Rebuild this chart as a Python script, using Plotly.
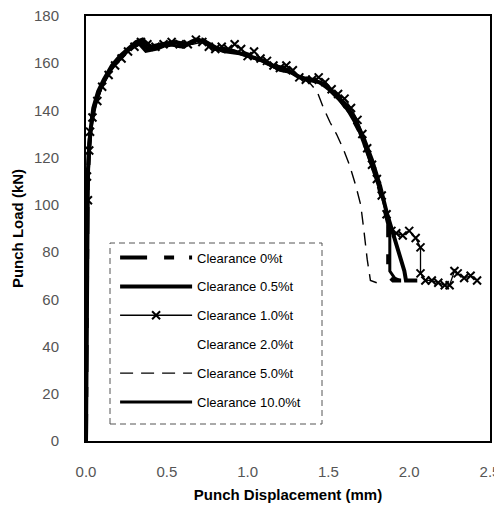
import plotly.graph_objects as go

# ---- data ----
names = ["Clearance 0%t", "Clearance 0.5%t", "Clearance 1.0%t",
         "Clearance 2.0%t", "Clearance 5.0%t", "Clearance 10.0%t"]

x_c0 = [0.0, 0.005, 0.01, 0.02, 0.04, 0.07, 0.10, 0.15, 0.20, 0.25, 0.30, 0.34, 0.38, 0.45, 0.52, 0.60,
        0.66, 0.72, 0.80, 0.90, 1.00, 1.08, 1.15, 1.22, 1.30, 1.38, 1.46, 1.52, 1.58, 1.64, 1.70, 1.75,
        1.80, 1.84, 1.87, 1.87, 1.90, 1.95]
y_c0 = [0, 70, 108, 126, 138, 146, 151, 157, 161, 165, 168, 169, 166, 167, 168, 167,
        169, 170, 166, 166, 164, 162, 159, 158, 155, 153, 152, 148, 144, 138, 130, 121,
        111, 100, 92, 70, 68, 68]

x_c05 = [0.0, 0.005, 0.012, 0.025, 0.045, 0.075, 0.11, 0.16, 0.21, 0.26, 0.31, 0.35, 0.40, 0.47, 0.55,
         0.62, 0.68, 0.74, 0.82, 0.92, 1.02, 1.10, 1.18, 1.25, 1.32, 1.40, 1.48, 1.54, 1.60, 1.66, 1.72,
         1.77, 1.82, 1.86, 1.89, 1.92, 1.95, 1.97, 1.98, 2.05]
y_c05 = [0, 80, 115, 130, 141, 148, 153, 159, 163, 166, 169, 170, 167, 168, 169,
         168, 170, 169, 166, 165, 163, 161, 158, 157, 154, 153, 151, 147, 143, 137, 128,
         119, 108, 97, 90, 84, 77, 72, 68, 68]

x_c1 = [0.012, 0.006, 0.02, 0.025, 0.04, 0.07, 0.10, 0.14, 0.18, 0.22, 0.26, 0.30, 0.34, 0.38, 0.43,
        0.48, 0.53, 0.58, 0.63, 0.68, 0.72, 0.76, 0.80, 0.84, 0.88, 0.92, 0.96, 1.00, 1.04, 1.08, 1.12,
        1.16, 1.20, 1.24, 1.28, 1.32, 1.36, 1.40, 1.44, 1.48, 1.52, 1.56, 1.60, 1.64, 1.68, 1.71, 1.74,
        1.77, 1.80, 1.83, 1.86, 1.89, 1.92, 1.96, 2.00, 2.04, 2.07, 2.07, 2.10, 2.14, 2.18, 2.22, 2.25,
        2.28, 2.30, 2.34, 2.38, 2.42]
y_c1 = [102, 112, 123, 131, 137, 144, 150, 155, 159, 162, 165, 167, 169, 168, 167,
        168, 169, 168, 168, 170, 169, 167, 166, 167, 166, 168, 166, 163, 165, 162, 161,
        159, 158, 159, 157, 154, 153, 153, 154, 152, 149, 147, 145, 141, 136, 130, 124,
        117, 111, 104, 96, 89, 88, 87, 89, 86, 82, 71, 68, 68, 67, 66, 66,
        72, 71, 69, 70, 68]

x_c2 = [0.0, 0.01, 0.05, 0.2, 0.4, 0.7, 1.0, 1.3, 1.5, 1.7, 1.85, 1.9]
y_c2 = [0, 110, 140, 161, 167, 169, 165, 155, 150, 130, 100, 68]

x_c5 = [0.0, 0.005, 0.01, 0.02, 0.04, 0.07, 0.11, 0.16, 0.21, 0.26, 0.31, 0.36, 0.42, 0.50, 0.58,
        0.66, 0.72, 0.80, 0.90, 1.00, 1.10, 1.20, 1.30, 1.38, 1.43, 1.47, 1.51, 1.55, 1.59, 1.63,
        1.67, 1.70, 1.72, 1.74, 1.76, 1.80]
y_c5 = [0, 75, 110, 127, 139, 146, 152, 158, 162, 165, 167, 168, 166, 167, 168,
        168, 169, 166, 166, 163, 160, 157, 155, 152, 148, 141, 135, 130, 124, 117,
        108, 100, 89, 77, 68, 67]

x_c10 = [0.0, 0.005, 0.01, 0.02, 0.035, 0.06, 0.09, 0.13, 0.18, 0.23, 0.28, 0.33, 0.37, 0.44, 0.51,
         0.58, 0.64, 0.70, 0.77, 0.85, 0.95, 1.05, 1.12, 1.20, 1.28, 1.36, 1.44, 1.50, 1.56, 1.62,
         1.68, 1.73, 1.78, 1.83, 1.86, 1.88, 1.88, 1.91, 1.94]
y_c10 = [0, 65, 104, 122, 134, 143, 149, 155, 160, 164, 167, 168, 165, 166, 168,
         167, 168, 170, 167, 165, 164, 162, 160, 157, 156, 153, 152, 149, 145, 140,
         133, 124, 114, 104, 97, 92, 72, 69, 68]

x_ticks = [0.0, 0.5, 1.0, 1.5, 2.0, 2.5]
x_ticklabels = ["0.0", "0.5", "1.0", "1.5", "2.0", "2.5"]
y_ticks = [0, 20, 40, 60, 80, 100, 120, 140, 160, 180]

# ---- figure ----
fig = go.Figure()
FONT = "Liberation Sans, Arial, sans-serif"

series = [
    (x_c2, y_c2, names[3], dict(color="rgba(255,255,255,0)", width=1), None, 3),
    (x_c0, y_c0, names[0], dict(color="black", width=4, dash="27px,17px,10px,15px"), None, 0),
    (x_c05, y_c05, names[1], dict(color="black", width=4), None, 1),
    (x_c10, y_c10, names[5], dict(color="black", width=3), None, 5),
    (x_c5, y_c5, names[4], dict(color="black", width=1.4, dash="13px,8px"), None, 4),
    (x_c1, y_c1, names[2], dict(color="black", width=1.3),
     dict(symbol="x-thin", size=8, line=dict(color="black", width=2)), 2),
]
for xs, ys, nm, ln, mk, rank in series:
    fig.add_trace(go.Scatter(
        x=xs, y=ys, name=nm, line=ln,
        mode="lines+markers" if mk else "lines",
        marker=mk, legendrank=rank + 1, legendgroup=nm,
    ))

# page body has an 8px default margin, so the figure is 8px smaller and offset
fig.update_layout(
    width=494, height=499,
    margin=dict(l=78, r=12, t=8, b=66),
    paper_bgcolor="white", plot_bgcolor="white",
    font=dict(family=FONT, color="black", size=12),
    showlegend=True,
    legend=dict(
        x=0.072, y=0.467, xanchor="left", yanchor="top",
        bgcolor="rgba(255,255,255,0)", borderwidth=0,
        font=dict(size=13, family=FONT, color="black"),
        itemwidth=72, tracegroupgap=9,
    ),
    shapes=[dict(type="rect", xref="paper", yref="paper",
                 x0=(110 - 86) / 404, x1=(322 - 86) / 404,
                 y0=(441 - 424) / 425, y1=(441 - 243) / 425,
                 line=dict(color="#555", width=1, dash="6px,4px"),
                 fillcolor="rgba(0,0,0,0)", layer="below")],
)
fig.update_xaxes(
    range=[0, 2.5], tickvals=x_ticks, ticktext=x_ticklabels, automargin=False,
    ticklabeloverflow="allow",
    showgrid=False, zeroline=False, showline=True, mirror=True,
    linecolor="black", linewidth=2,
    ticks="outside", ticklen=16, tickcolor="rgba(0,0,0,0)",
    tickfont=dict(size=15, color="#555", family=FONT),
    title=dict(text="<b>Punch Displacement (mm)</b>", font=dict(size=15, family=FONT), standoff=10),
)
fig.update_yaxes(
    range=[0, 180], tickvals=y_ticks, automargin=False,
    ticklabeloverflow="allow",
    showgrid=False, zeroline=False, showline=True, mirror=True,
    linecolor="black", linewidth=2,
    ticks="outside", ticklen=22, tickcolor="rgba(0,0,0,0)",
    tickfont=dict(size=15, color="#555", family=FONT),
    title=dict(text="<b>Punch Load (kN)</b>", font=dict(size=15, family=FONT), standoff=7),
)

fig.write_html("out.html")
